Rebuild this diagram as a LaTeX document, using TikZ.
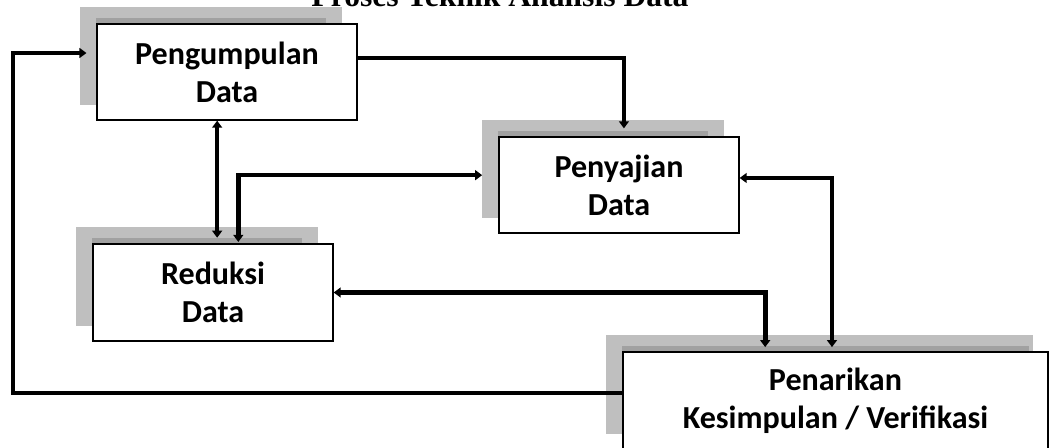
\documentclass[tikz,border=0pt]{standalone}
\usepackage{fontspec}
\setmainfont{Liberation Serif}
\newfontfamily\boxfont{Carlito}
\usetikzlibrary{arrows.meta,backgrounds}
\definecolor{shlight}{rgb}{0.75,0.75,0.75}
\definecolor{shdark}{rgb}{0.63,0.63,0.63}

\begin{document}
\begin{tikzpicture}[x=0.025cm, y=-0.025cm, line join=miter,
    >={Triangle[length=5pt,width=7pt]}]

  \tikzstyle{box}=[draw, fill=white, line width=0.9pt, inner sep=0pt, align=center,
    font=\boxfont\bfseries\fontsize{22.8}{27}\selectfont]
  \tikzstyle{flow}=[line width=3.3pt]

  \useasboundingbox (0,0) rectangle (1051,447);
  \begin{scope}[on background layer]
    \fill[white] (0,0) rectangle (1051,447);
  \end{scope}

  \node[font=\bfseries\fontsize{22.5}{27}\selectfont, anchor=base] (title) at (500,6)
    {Proses Teknik Analisis Data};

  \node[box, minimum width=6.5cm, minimum height=2.4cm] (kumpul) at (227,72) {Pengumpulan\\Data};
  \node[box, minimum width=6cm, minimum height=2.4cm] (saji) at (619,185) {Penyajian\\Data};
  \node[box, minimum width=6cm, minimum height=2.425cm] (reduksi) at (213,292.5) {Reduksi\\Data};
  \node[box, minimum width=10.625cm, minimum height=2.425cm] (tarik) at (835.5,400.5)
    {Penarikan\\Kesimpulan / Verifikasi};

  \begin{scope}[on background layer]
    \foreach \n/\r in {kumpul/32, saji/32, reduksi/32, tarik/20}{
      \fill[shlight] ([shift={(-16,-16)}]\n.north west) rectangle ([shift={(-16,-16)}]\n.south east);
      \fill[shdark] ([shift={(0,-5)}]\n.north west) rectangle ([shift={(-\r,10)}]\n.north east);
    }
  \end{scope}

  \draw[flow,->,shorten >=5.7pt] ([yshift=10pt]kumpul.east) -| ([xshift=3.5pt]saji.north);
  \draw[flow,<->,shorten >=4pt] ([xshift=-7pt]kumpul.south) -- ([xshift=-7pt]kumpul.south |- reduksi.north);
  \draw[flow,<->,shorten <=1pt,shorten >=11.5pt] ([xshift=18pt]reduksi.north) |- ([yshift=7pt]saji.west);
  \draw[flow,<->,shorten <=3pt] ([xshift=-2.5pt]tarik.north) |- ([yshift=5pt]saji.east);
  \draw[flow,<->,shorten <=3pt] ([xshift=-50pt]tarik.north) |- (reduksi.east);

  \coordinate (back) at (13,0);
  \draw[flow,->,shorten >=7pt] ([yshift=5.3pt]tarik.west) -- ([yshift=5.3pt]tarik.west -| back)
    |- ([yshift=13.5pt]kumpul.west);

\end{tikzpicture}
\end{document}
